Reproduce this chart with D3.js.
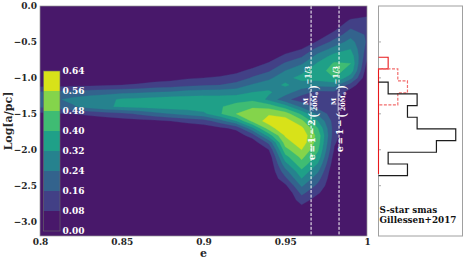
<!DOCTYPE html>
<html><head><meta charset="utf-8">
<script src="https://cdn.jsdelivr.net/npm/d3@7"></script>
<style>body{margin:0;background:#fff}</style>
</head><body>
<svg id="c" width="463" height="262"></svg>
<script>
// ---------------- data ----------------
const eGrid = [0.80,0.81,0.82,0.83,0.84,0.85,0.86,0.87,0.88,0.89,0.90,0.91,0.92,0.93,0.94,0.95,0.96,0.97,0.98,0.99,1.00];
const logaGrid = [0.0,-0.1,-0.2,-0.3,-0.4,-0.5,-0.6,-0.7,-0.8,-0.9,-1.0,-1.1,-1.2,-1.3,-1.4,-1.5,-1.6,-1.7,-1.8,-1.9,-2.0,-2.1,-2.2,-2.3,-2.4,-2.5,-2.6,-2.7,-2.8,-2.9,-3.0,-3.1,-3.2];
// density rows: one row per logaGrid value, one column per eGrid value
const density = [
[0,0,0,0,0,0,0,0,0,0,0,0,0,0,0,0,0,0,0,0,0],
[0,0,0,0,0,0,0,0,0,0,0,0,0,0,0,0,0,0,0,.03,.06],
[0,0,0,0,0,0,0,0,0,0,0,0,0,0,0,0,0,0,.02,.09,.10],
[0,0,0,0,0,0,0,0,0,0,0,0,0,0,0,0,0,.01,.05,.15,.13],
[0,0,0,0,0,0,0,0,0,0,0,0,0,0,0,0,0,.03,.11,.21,.15],
[0,0,0,0,0,0,0,0,0,0,0,0,0,0,0,0,.02,.09,.19,.27,.15],
[0,0,0,0,0,0,0,0,0,0,0,0,0,0,0,.04,.08,.19,.27,.32,.13],
[0,0,0,0,0,0,0,0,0,0,0,0,0,0,.03,.10,.15,.27,.35,.37,.10],
[0,0,0,0,0,0,0,0,0,0,0,0,.01,.04,.09,.17,.23,.33,.41,.40,.06],
[0,0,0,0,0,0,0,0,.01,.02,.03,.04,.06,.10,.15,.24,.30,.37,.43,.37,.03],
[0,0,.01,.01,.02,.02,.03,.04,.05,.07,.08,.09,.11,.17,.22,.30,.34,.36,.40,.27,.01],
[.05,.05,.06,.06,.07,.08,.09,.11,.12,.14,.15,.16,.19,.25,.29,.33,.29,.26,.27,.12,0],
[.17,.18,.19,.20,.21,.22,.23,.24,.25,.27,.28,.28,.29,.32,.33,.28,.19,.14,.14,.04,0],
[.21,.23,.26,.28,.30,.33,.34,.35,.36,.36,.36,.36,.36,.38,.30,.18,.12,.10,.10,.01,0],
[.17,.19,.23,.27,.31,.33,.34,.35,.36,.36,.37,.39,.44,.47,.45,.36,.22,.13,.11,0,0],
[.06,.07,.08,.10,.12,.14,.17,.21,.24,.27,.30,.39,.48,.52,.55,.52,.38,.22,.11,0,0],
[.01,.01,.02,.02,.03,.04,.05,.06,.08,.10,.12,.20,.32,.50,.60,.60,.50,.32,.12,0,0],
[0,0,0,0,0,0,0,0,.02,.03,.04,.06,.10,.30,.52,.63,.58,.40,.12,0,0],
[0,0,0,0,0,0,0,0,0,0,0,.01,.03,.12,.36,.57,.62,.45,.11,0,0],
[0,0,0,0,0,0,0,0,0,0,0,0,0,.03,.18,.52,.61,.44,.09,0,0],
[0,0,0,0,0,0,0,0,0,0,0,0,0,0,.08,.45,.56,.41,.07,0,0],
[0,0,0,0,0,0,0,0,0,0,0,0,0,0,.02,.37,.50,.37,.04,0,0],
[0,0,0,0,0,0,0,0,0,0,0,0,0,0,0,.29,.45,.31,.02,0,0],
[0,0,0,0,0,0,0,0,0,0,0,0,0,0,0,.21,.38,.25,0,0,0],
[0,0,0,0,0,0,0,0,0,0,0,0,0,0,0,.14,.32,.19,0,0,0],
[0,0,0,0,0,0,0,0,0,0,0,0,0,0,0,.06,.25,.14,0,0,0],
[0,0,0,0,0,0,0,0,0,0,0,0,0,0,0,0,.18,.09,0,0,0],
[0,0,0,0,0,0,0,0,0,0,0,0,0,0,0,0,.12,.04,0,0,0],
[0,0,0,0,0,0,0,0,0,0,0,0,0,0,0,0,.06,.01,0,0,0],
[0,0,0,0,0,0,0,0,0,0,0,0,0,0,0,0,.01,0,0,0,0],
[0,0,0,0,0,0,0,0,0,0,0,0,0,0,0,0,0,0,0,0,0],
[0,0,0,0,0,0,0,0,0,0,0,0,0,0,0,0,0,0,0,0,0],
[0,0,0,0,0,0,0,0,0,0,0,0,0,0,0,0,0,0,0,0,0]
];
const levels = [0.00,0.08,0.16,0.24,0.32,0.40,0.48,0.56,0.64];
const levelLabels = ["0.00","0.08","0.16","0.24","0.32","0.40","0.48","0.56","0.64"];
const xTicks = [0.8,0.85,0.9,0.95,1.0];
const xTickLabels = ["0.8","0.85","0.9","0.95","1"];
const yTicks = [0,-0.5,-1.0,-1.5,-2.0,-2.5,-3.0];
const yTickLabels = ["0.0","\u22120.5","\u22121.0","\u22121.5","\u22122.0","\u22122.5","\u22123.0"];
const limitLines = [0.9658, 0.9829];
const limitPrefixes = ["e\u2009=\u20091\u2009\u2212\u20092", "e\u2009=\u20091\u2009\u2212"];
// S-star histograms (log a bins)
const blackEdges = [-1.060,-1.223,-1.385,-1.548,-1.710,-1.873,-2.035,-2.198,-2.360];
const blackCounts = [1,4,3,4,8,6,1,3];
const redDashEdges = [-0.875,-1.042,-1.208,-1.375];
const redDashCounts = [2,3,2];
const redEdges = [-0.712,-0.875,-1.037,-1.200,-1.362,-1.525,-1.687,-1.850,-2.012,-2.175,-2.337];
const redCounts = [1,0,0,0,0,0,0,0,0,0];
const histTicks = [-0.5,-1.0,-1.5,-2.0,-2.5];
const noteLines = ["S-star smas","Gillessen+2017"];

// ---------------- drawing ----------------
const svg = d3.select("#c").attr("font-family","DejaVu Serif").attr("font-weight","bold");
const L = 40, R = 367, T = 6, B = 236;
const x = d3.scaleLinear().domain([0.8,1.0]).range([L,R]);
const y = d3.scaleLinear().domain([-3.2,0]).range([B,T]);
const colors = levels.slice(0,-1).map((d,i)=>d3.interpolateViridis((i+0.5)/(levels.length-1)));

svg.append("clipPath").attr("id","pc").append("rect").attr("x",L).attr("y",T).attr("width",R-L).attr("height",B-T);
const plot = svg.append("g").attr("clip-path","url(#pc)");
plot.append("rect").attr("x",L).attr("y",T).attr("width",R-L).attr("height",B-T).attr("fill",colors[0]);

const nx = eGrid.length, ny = logaGrid.length;
const flat = [];
density.forEach(row => row.forEach(v => flat.push(v)));
const de = eGrid[1]-eGrid[0], dl = logaGrid[1]-logaGrid[0];
const proj = d3.geoTransform({point: function(px,py){
  this.stream.point(x(eGrid[0] + (px-0.5)*de), y(logaGrid[0] + (py-0.5)*dl));
}});
const gpath = d3.geoPath(proj);
const cont = d3.contours().size([nx,ny]).thresholds(levels.slice(1,-1))(flat);
plot.selectAll("path.c").data(cont).join("path").attr("class","c")
  .attr("d", gpath).attr("fill",(d,i)=>colors[i+1]).attr("stroke",(d,i)=>colors[i+1]).attr("stroke-width",0.3);

// dashed limit lines
plot.selectAll("line.lim").data(limitLines).join("line").attr("class","lim")
  .attr("x1",d=>x(d)).attr("x2",d=>x(d)).attr("y1",T).attr("y2",B)
  .attr("stroke","white").attr("stroke-width",1).attr("stroke-dasharray","3,1.6");

// annotations (rotated mathtext-like labels)
function annotate(eVal, prefix){
  const g = svg.append("g").attr("fill","white");
  let pos = 0;
  const t1 = g.append("text").attr("x",0).attr("y",0).attr("font-size",9).text(prefix);
  pos += t1.node().getComputedTextLength() + 1.8;
  const p1 = g.append("text").attr("x",pos).attr("y",2.6).attr("font-size",13.5).attr("font-weight","normal").text("(");
  pos += p1.node().getComputedTextLength() + 0.8;
  const num = g.append("text").attr("y",-7.2).attr("font-size",6.4).attr("text-anchor","middle").text("M");
  const den = g.append("text").attr("y",1.9).attr("font-size",6.4).attr("text-anchor","middle");
  den.append("tspan").text("20M");
  den.append("tspan").attr("font-size",4.2).attr("dy",1).text("\u2299");
  const fw = Math.max(num.node().getComputedTextLength(), den.node().getComputedTextLength()) + 1;
  num.attr("x",pos+fw/2); den.attr("x",pos+fw/2);
  g.append("line").attr("x1",pos).attr("x2",pos+fw).attr("y1",-4.9).attr("y2",-4.9).attr("stroke","white").attr("stroke-width",0.6);
  pos += fw + 0.8;
  const p2 = g.append("text").attr("x",pos).attr("y",2.6).attr("font-size",13.5).attr("font-weight","normal").text(")");
  pos += p2.node().getComputedTextLength() + 0.6;
  const sup = g.append("text").attr("x",pos).attr("y",-4.6).attr("font-size",7.1).text("\u22121/3");
  pos += sup.node().getComputedTextLength();
  g.attr("transform",`translate(${x(eVal)+4},${66+pos}) rotate(-90)`);
}
limitLines.forEach((e,i)=>annotate(e, limitPrefixes[i]));

// colorbar
const cb = d3.scaleLinear().domain([levels[0],levels[levels.length-1]]).range([231,71]);
const cbx = 43.5, cbw = 16.5;
const cbg = svg.append("g");
cbg.selectAll("rect.b").data(colors).join("rect").attr("class","b")
  .attr("x",cbx).attr("width",cbw)
  .attr("y",(d,i)=>cb(levels[i+1])).attr("height",(d,i)=>cb(levels[i])-cb(levels[i+1]))
  .attr("fill",d=>d);
cbg.append("rect").attr("x",cbx).attr("y",cb(levels[levels.length-1])).attr("width",cbw)
  .attr("height",cb(levels[0])-cb(levels[levels.length-1])).attr("fill","none").attr("stroke","#6a6a6a").attr("stroke-width",0.6);
cbg.selectAll("text").data(levels).join("text").attr("x",cbx+cbw+2.5).attr("y",d=>cb(d)).attr("dy","0.35em")
  .attr("font-size",9).attr("fill","white").text((d,i)=>levelLabels[i]);

// frame
svg.append("rect").attr("x",L).attr("y",T).attr("width",R-L).attr("height",B-T).attr("fill","none").attr("stroke","#999").attr("stroke-width",0.7);

// axes
const gx = svg.append("g").attr("transform",`translate(0,${B})`)
  .call(d3.axisBottom(x).tickValues(xTicks).tickFormat((d,i)=>xTickLabels[i]).tickSize(0).tickPadding(3));
const gy = svg.append("g").attr("transform",`translate(${L},0)`)
  .call(d3.axisLeft(y).tickValues(yTicks).tickFormat((d,i)=>yTickLabels[i]).tickSize(0).tickPadding(3));
[gx,gy].forEach(g=>{ g.select(".domain").remove(); g.attr("font-family","DejaVu Serif").attr("font-size",9).attr("font-weight","bold").attr("color","#262626"); });

svg.append("text").attr("x",203.5).attr("y",257).attr("text-anchor","middle").attr("font-size",11).attr("fill","#262626").text("e");
svg.append("text").attr("transform","translate(12,121) rotate(-90)").attr("text-anchor","middle").attr("font-size",11).attr("fill","#262626").text("Log[a/pc]");

// histogram panel
const hx = d3.scaleLinear().domain([0,8.7]).range([378.5,462.5]);
const hp = svg.append("g");
hp.append("rect").attr("x",378.5).attr("y",T).attr("width",84).attr("height",B-T).attr("fill","none").attr("stroke","#a0a0a0").attr("stroke-width",1);
hp.selectAll("line.t").data(histTicks).join("line").attr("class","t")
  .attr("x1",378.5).attr("x2",381).attr("y1",d=>y(d)).attr("y2",d=>y(d)).attr("stroke","#aaa").attr("stroke-width",1);
function stepPts(edges, counts){
  const pts = [[0,edges[0]]];
  counts.forEach((c,i)=>{ pts.push([c,edges[i]]); pts.push([c,edges[i+1]]); });
  pts.push([0,edges[edges.length-1]]);
  return pts;
}
const sline = d3.line().x(d=>hx(d[0])).y(d=>y(d[1]));
hp.append("path").attr("d",sline(stepPts(redEdges,redCounts))).attr("fill","none").attr("stroke","#e8191c").attr("stroke-width",1.1);
hp.append("path").attr("d",sline(stepPts(redDashEdges,redDashCounts))).attr("fill","none").attr("stroke","#f26d6d").attr("stroke-width",1.2).attr("stroke-dasharray","3,1.5");
hp.append("path").attr("d",sline(stepPts(blackEdges,blackCounts))).attr("fill","none").attr("stroke","#1c1c1c").attr("stroke-width",1.2);
hp.selectAll("text.n").data(noteLines).join("text").attr("class","n")
  .attr("x",379.5).attr("y",(d,i)=>212.5+i*10.5).attr("font-size",8.8).attr("fill","#111").text(d=>d);
</script>
</body></html>
